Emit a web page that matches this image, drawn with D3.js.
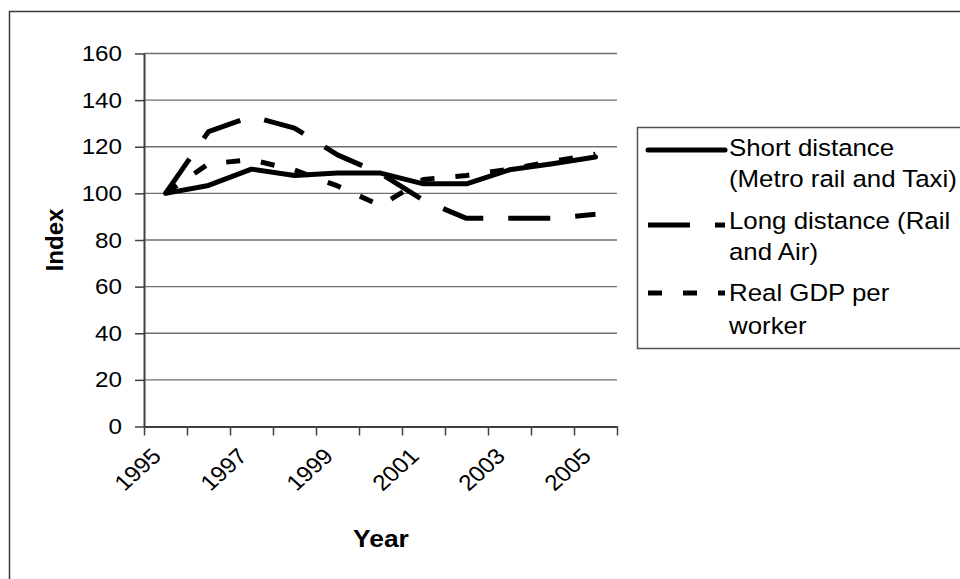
<!DOCTYPE html>
<html><head><meta charset="utf-8">
<script src="https://cdn.jsdelivr.net/npm/d3@7"></script>
<style>
body{margin:0;background:#fff}
svg{display:block}
text{font-family:"Liberation Sans",Arial,sans-serif;fill:#000}
</style>
</head><body>
<svg id="c" width="960" height="579"></svg>
<script>
// ---- data ----
const years = ['1995','1996','1997','1998','1999','2000','2001','2002','2003','2004','2005'];
const shortDistance = [100, 103.4, 110.4, 107.7, 108.7, 108.7, 104.1, 104.1, 110.1, 112.7, 115.6];
const longDistance  = [100, 126.5, 133, 128, 116.5, 108.5, 97, 89.3, 89.3, 89.3, 91];
const gdpPerWorker  = [100, 112.7, 114.4, 110, 103.2, 94.8, 106, 107.7, 110.4, 113.7, 116.8];
const yTicks = [0, 20, 40, 60, 80, 100, 120, 140, 160];
const xLabels = ['1995','1997','1999','2001','2003','2005'];
const seriesNames = [
  ['Short distance', '(Metro rail and Taxi)'],
  ['Long distance (Rail', 'and Air)'],
  ['Real GDP per', 'worker']
];

// ---- layout ----
const W = 960, H = 579;
const P = {left:144, right:617, top:53.5, bottom:426.5};
const SX = 1.1; // horizontal glyph stretch of the original picture
const INK = '#000';

const svg = d3.select('#c');
svg.append('rect').attr('width', W).attr('height', H).attr('fill', '#fff');
// outer chart frame (runs off the right and bottom edge)
svg.append('rect').attr('x', 9.5).attr('y', 11.5).attr('width', 1000).attr('height', 700)
  .attr('fill', 'none').attr('stroke', '#3a3a3a').attr('stroke-width', 1.5);

const x = d3.scaleBand().domain(years).range([P.left, P.right]).padding(0);
const xEdge = d3.scaleLinear().domain([0, years.length]).range([P.left, P.right]);
const y = d3.scaleLinear().domain([0, 160]).range([P.bottom, P.top]);

function stretch(sel, extra) {
  sel.each(function() {
    const t = d3.select(this);
    const xx = +t.attr('x') || 0, yy = +t.attr('y') || 0;
    t.attr('x', 0).attr('y', 0)
     .attr('transform', `translate(${xx},${yy}) scale(${SX},1)` + (extra || ''));
  });
}

// gridlines
svg.append('g').selectAll('line').data(yTicks.filter(d => d > 0)).join('line')
  .attr('x1', P.left).attr('x2', P.right)
  .attr('y1', d => y(d)).attr('y2', d => y(d))
  .attr('stroke', '#707070').attr('stroke-width', 1.3);

// y axis
const yAxis = svg.append('g').attr('transform', `translate(${P.left},0)`)
  .call(d3.axisLeft(y).tickValues(yTicks).tickSize(9).tickSizeOuter(0).tickPadding(13).tickFormat(d3.format('d')));
yAxis.select('.domain').attr('stroke', '#404040').attr('stroke-width', 2);
yAxis.selectAll('.tick line').attr('stroke', '#404040').attr('stroke-width', 1.5);
yAxis.selectAll('.tick text').attr('font-size', 22).attr('font-family', '"Liberation Sans",Arial,sans-serif').call(stretch);

// x axis: boundary ticks
const xAxis = svg.append('g').attr('transform', `translate(0,${P.bottom})`)
  .call(d3.axisBottom(xEdge).tickValues(d3.range(0, years.length + 1)).tickSize(9).tickSizeOuter(0).tickFormat(''));
xAxis.select('.domain').attr('stroke', '#404040').attr('stroke-width', 2);
xAxis.selectAll('.tick line').attr('stroke', '#404040').attr('stroke-width', 1.5);

// x axis: rotated category labels
const xLab = svg.append('g').attr('transform', `translate(0,${P.bottom})`)
  .call(d3.axisBottom(x).tickValues(xLabels).tickSize(0).tickPadding(0));
xLab.select('.domain').remove();
xLab.selectAll('.tick text')
  .attr('font-size', 22).attr('font-family', '"Liberation Sans",Arial,sans-serif')
  .attr('text-anchor', 'end').attr('dy', 0)
  .attr('x', -3).attr('y', 31)
  .call(stretch, ' rotate(-45)');

// axis titles
svg.append('text').text('Year').attr('x', 381).attr('y', 547)
  .attr('font-size', 24).attr('font-weight', 'bold').attr('text-anchor', 'middle').call(stretch);
svg.append('text').text('Index').attr('text-anchor', 'middle')
  .attr('font-size', 24).attr('font-weight', 'bold')
  .attr('transform', `translate(63,${(P.top + P.bottom) / 2}) rotate(-90)`);

// series
const styles = [
  {data: shortDistance, dash: null, cap: 'round'},
  {data: longDistance, dash: '42,25', cap: 'butt'},
  {data: gdpPerWorker, dash: '14,21', cap: 'butt'}
];
const line = d3.line().x((d, i) => x(years[i]) + x.bandwidth() / 2).y(d => y(d));
const gS = svg.append('g');
styles.forEach(s => {
  gS.append('path').attr('d', line(s.data)).attr('fill', 'none')
    .attr('stroke', INK).attr('stroke-width', 5)
    .attr('stroke-linejoin', 'round').attr('stroke-linecap', s.cap)
    .attr('stroke-dasharray', s.dash);
});

// legend
svg.append('rect').attr('x', 637.5).attr('y', 127.5).attr('width', 400).attr('height', 221)
  .attr('fill', '#fff').attr('stroke', '#505050').attr('stroke-width', 1.5);
const legY = [[150, 155.5, 186.5], [225, 228.5, 259.5], [293, 301, 334]];
styles.forEach((s, i) => {
  svg.append('line').attr('x1', 648).attr('x2', 725).attr('y1', legY[i][0]).attr('y2', legY[i][0])
    .attr('stroke', INK).attr('stroke-width', 5).attr('stroke-linecap', s.cap)
    .attr('stroke-dasharray', s.dash);
  seriesNames[i].forEach((t, k) => {
    svg.append('text').text(t).attr('x', 729).attr('y', legY[i][1 + k])
      .attr('font-size', 23.5).call(stretch);
  });
});
</script>
</body></html>
